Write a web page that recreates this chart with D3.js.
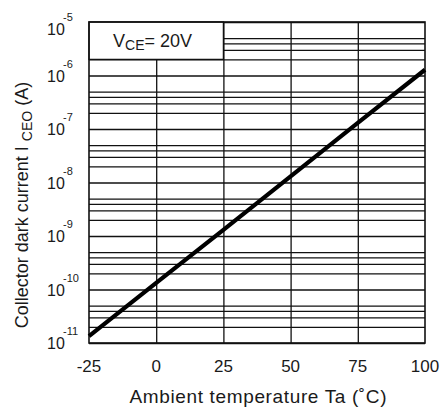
<!DOCTYPE html>
<html>
<head>
<meta charset="utf-8">
<script src="https://cdn.jsdelivr.net/npm/d3@7"></script>
<style>
  body { margin: 0; background: #fff; }
  text { font-family: "Liberation Sans", Arial, sans-serif; fill: #1a1a1a; }
</style>
</head>
<body>
<div id="chart"></div>
<script>
// data
const temps = [-25, 0, 25, 50, 75, 100];
const iceo = [1.35e-11, 1.33e-10, 1.3e-9, 1.3e-8, 1.3e-7, 1.28e-6];
const xTicks = [-25, 0, 25, 50, 75, 100];
const decades = [-11, -10, -9, -8, -7, -6, -5];
const minorMult = [2, 3, 4, 5];

var W = 444, H = 408;
var m = {left: 89, right: 19, top: 22, bottom: 65};
var pw = W - m.left - m.right, ph = H - m.top - m.bottom;

var svg = d3.select("#chart").append("svg")
  .attr("width", W).attr("height", H);

var x = d3.scaleLinear().domain([-25, 100]).range([m.left, m.left + pw]);
var y = d3.scaleLog().domain([1e-11, 1e-5]).range([m.top + ph, m.top]);

// horizontal grid: 1..5 x 10^n
var hgrid = [];
decades.forEach(d => {
  hgrid.push(Math.pow(10, d));
  if (d < -5) minorMult.forEach(k => hgrid.push(k * Math.pow(10, d)));
});

var g = svg.append("g");
g.append("g")
  .attr("transform", "translate(" + m.left + ",0)")
  .call(d3.axisLeft(y).tickValues(hgrid).tickSize(-pw).tickFormat(""))
  .call(s => s.select(".domain").remove())
  .selectAll("line").attr("stroke", "#111").attr("stroke-width", 1.3);

g.append("g")
  .attr("transform", "translate(0," + (m.top + ph) + ")")
  .call(d3.axisBottom(x).tickValues(xTicks.slice(1, -1)).tickSize(-ph).tickFormat(""))
  .call(s => s.select(".domain").remove())
  .selectAll("line").attr("stroke", "#111").attr("stroke-width", 1.3);

// legend box
svg.append("rect")
  .attr("x", x(-25)).attr("y", y(1e-5))
  .attr("width", x(25) - x(-25)).attr("height", y(2e-6) - y(1e-5))
  .attr("fill", "#fff").attr("stroke", "#111").attr("stroke-width", 1.3);

var vt = svg.append("text").attr("x", 113).attr("y", 47).style("font-size", "18px");
vt.append("tspan").text("V");
vt.append("tspan").attr("dy", 3).style("font-size", "14px").text("CE");
vt.append("tspan").attr("dy", -3).text("= 20V");

// frame
svg.append("rect")
  .attr("x", m.left).attr("y", m.top).attr("width", pw).attr("height", ph)
  .attr("fill", "none").attr("stroke", "#111").attr("stroke-width", 1.6);

// curve
var line = d3.line().x((d, i) => x(temps[i])).y(d => y(d));
svg.append("path")
  .datum(iceo)
  .attr("d", line)
  .attr("fill", "none").attr("stroke", "#000").attr("stroke-width", 4.2);

// y tick labels: "10" with exponent
var yl = svg.append("g").selectAll("g").data(decades).enter().append("g")
  .attr("transform", d => "translate(47," + (y(Math.pow(10, d)) + (d === -5 ? 13 : 6)) + ")");
yl.append("text").style("font-size", "16px").text("10");
yl.append("text").attr("x", 16).attr("y", -14).style("font-size", "11px").text(d => d);

// x tick labels
svg.append("g").selectAll("text").data(xTicks).enter().append("text")
  .attr("x", d => x(d)).attr("y", 372)
  .attr("text-anchor", "middle").style("font-size", "17px")
  .text(d => d);

// axis titles
svg.append("text")
  .attr("x", 258).attr("y", 403).attr("text-anchor", "middle")
  .style("font-size", "19px").attr("textLength", 257)
  .text("Ambient temperature Ta (˚C)");

var yt = svg.append("text")
  .attr("transform", "translate(28,205) rotate(-90)")
  .attr("text-anchor", "middle").style("font-size", "18px");
yt.append("tspan").text("Collector dark current I ");
yt.append("tspan").attr("dy", 4).style("font-size", "14px").text("CEO");
yt.append("tspan").attr("dy", -4).text(" (A)");
</script>
</body>
</html>
